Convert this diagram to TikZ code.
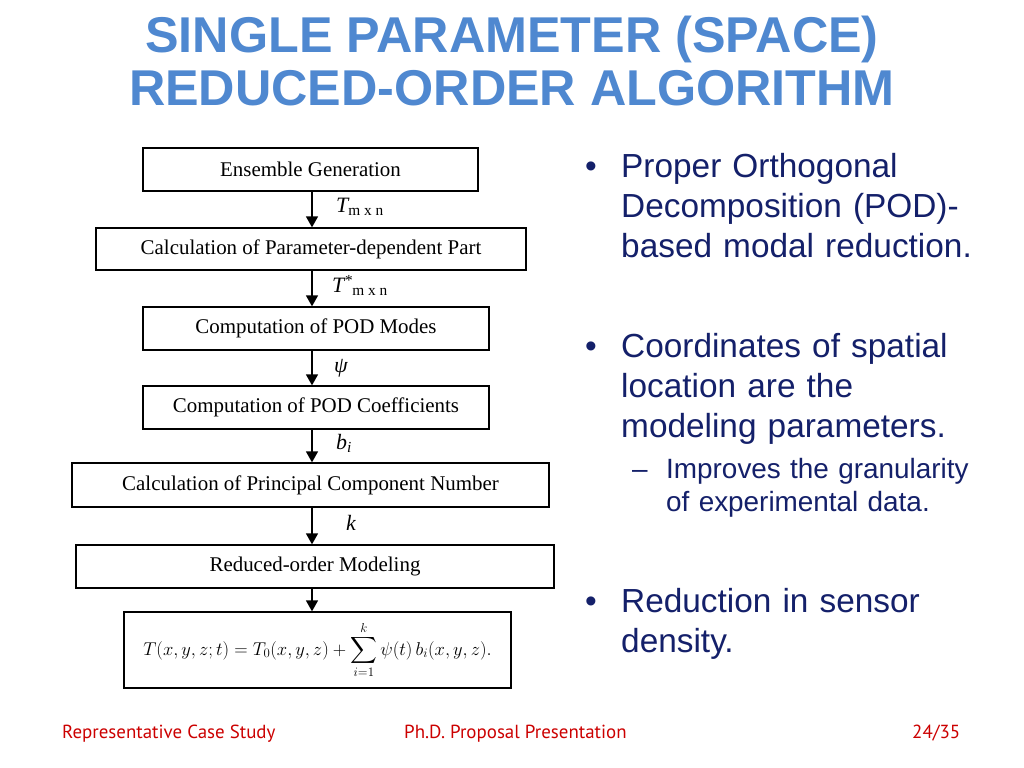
\documentclass[tikz,border=0pt]{standalone}
\usepackage{amsmath}
\usepackage{fontspec}
\setmainfont{Liberation Serif}
\setsansfont{Liberation Sans}
\newfontfamily\footfont{PT Sans}
\usetikzlibrary{arrows.meta,positioning}

\definecolor{titleblue}{HTML}{4F88D0}
\definecolor{textnavy}{HTML}{14206A}
\definecolor{footred}{HTML}{CC0000}

\tikzset{
  stepbox/.style={draw, line width=1.3bp, inner sep=0pt, font=\fontsize{21}{24}\selectfont},
  flow/.style={-{Triangle[length=11bp,width=12bp]}, line width=1.5bp},
  varlabel/.style={right, xshift=20bp, font=\fontsize{22}{24}\selectfont\itshape},
  titleline/.style={anchor=base, text=titleblue, font=\sffamily\bfseries\fontsize{50.5}{56}\selectfont},
  bullettext/.style={anchor=base west, inner sep=0pt, text width=420bp, align=left, text=textnavy, font=\sffamily\fontsize{33.5}{40.5}\selectfont},
  subtext/.style={bullettext, font=\sffamily\fontsize{28}{34}\selectfont},
  footer/.style={anchor=base west, inner sep=0pt, text=footred, font=\footfont\fontsize{19}{22}\selectfont},
}

\begin{document}
\begin{tikzpicture}[x=1bp, y=-1bp]
\useasboundingbox[fill=white] (0,0) rectangle (1024,768);

% title
\node[titleline] (head1) at (512,53) {SINGLE PARAMETER (SPACE)};
\node[titleline] (head2) at (512,105) {REDUCED-ORDER ALGORITHM};

% flow chart
\node[stepbox, minimum width=335bp, minimum height=43bp] (ens) at (310.5,169.5) {Ensemble Generation};
\node[stepbox, minimum width=430bp, minimum height=42bp] (param) at (311,249) {Calculation of Parameter-dependent Part};
\node[stepbox, minimum width=346bp, minimum height=43bp] (modes) at (316,328.5) {Computation of POD Modes};
\node[stepbox, minimum width=346bp, minimum height=43bp] (coef) at (316,407.5) {Computation of POD Coefficients};
\node[stepbox, minimum width=477bp, minimum height=44bp] (pcn) at (310.5,485) {Calculation of Principal Component Number};
\node[stepbox, minimum width=478bp, minimum height=43bp] (rom) at (315,566.5) {Reduced-order Modeling};
\node[stepbox, minimum width=387bp, minimum height=76bp, font=\fontsize{17}{20}\selectfont] (eqn) at (317.5,650)
  {\scalebox{1.077}{$\displaystyle T(x,y,z;t)=T_0(x,y,z)+\sum_{i=1}^{k}\psi(t)\,b_i(x,y,z).$}};

\coordinate (ax) at (312,0);
\draw[flow] (ens.south -| ax) -- (param.north -| ax)
  node[varlabel, midway, yshift=3bp] {T\textsubscript{\upshape m x n}};
\draw[flow] (param.south -| ax) -- (modes.north -| ax)
  node[varlabel, midway, xshift=-4bp, yshift=3bp] {T\textsuperscript{*}\textsubscript{\upshape m x n}};
\draw[flow] (modes.south -| ax) -- (coef.north -| ax)
  node[varlabel, midway, xshift=-2bp] {ψ};
\draw[flow] (coef.south -| ax) -- (pcn.north -| ax)
  node[varlabel, midway, yshift=3bp] {b\textsubscript{i}};
\draw[flow] (pcn.south -| ax) -- (rom.north -| ax)
  node[varlabel, midway, xshift=10bp, yshift=3bp] {k};
\draw[flow] (rom.south -| ax) -- (eqn.north -| ax);

% bullets
\node[bullettext, text width=30bp] (dot1) at (585,177) {•};
\node[bullettext] (pod) at (621,177) {Proper Orthogonal\\Decomposition (POD)-\\based modal reduction.};
\node[bullettext, text width=30bp] (dot2) at (585,357) {•};
\node[bullettext] (coord) at (621,357) {Coordinates of spatial\\location are the\\modeling parameters.};
\node[subtext, text width=30bp] (dash1) at (632,478) {–};
\node[subtext] (gran) at (666,478) {Improves the granularity\\of experimental data.};
\node[bullettext, text width=30bp] (dot3) at (585,612) {•};
\node[bullettext] (sensor) at (621,612) {Reduction in sensor\\density.};

% footer
\node[footer] (foot1) at (62,738) {Representative Case Study};
\node[footer] (foot2) at (404,738) {Ph.D. Proposal Presentation};
\node[footer] (foot3) at (912,738) {24/35};
\end{tikzpicture}
\end{document}
